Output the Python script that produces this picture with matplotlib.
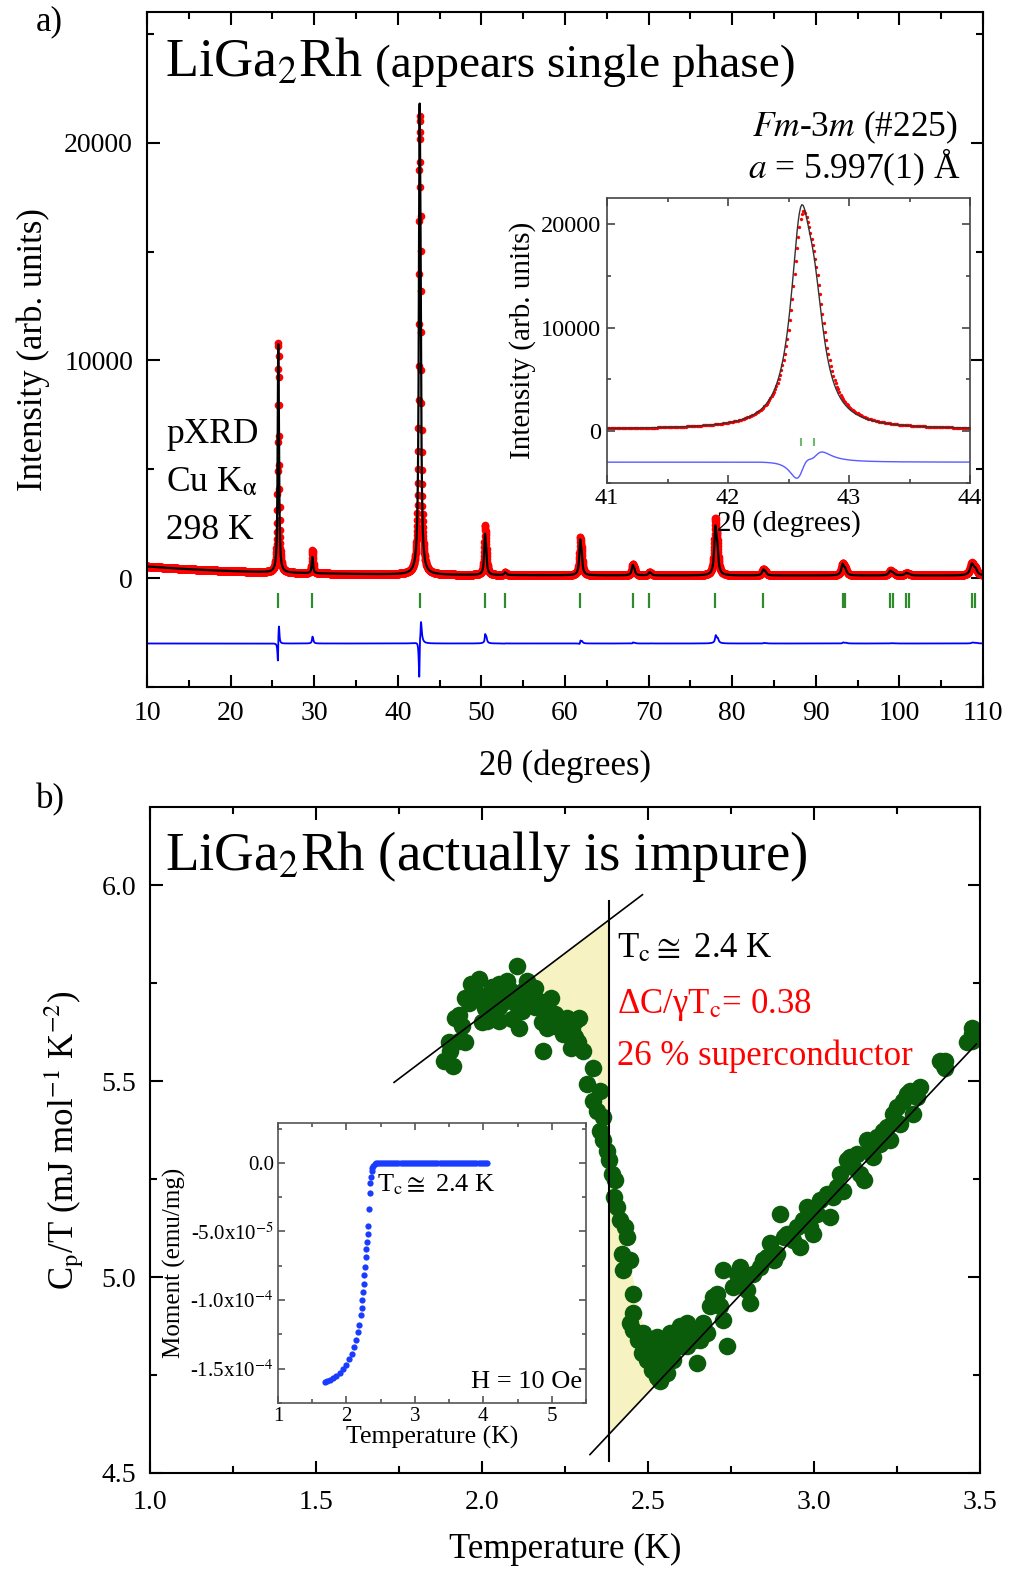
import numpy as np
import matplotlib
matplotlib.use("Agg")
import matplotlib.pyplot as plt
from matplotlib.ticker import MultipleLocator, FixedLocator, FixedFormatter

plt.rcParams['font.family'] = ['Liberation Serif', 'DejaVu Serif']
plt.rcParams['mathtext.fontset'] = 'stix'

W, H = 1011, 1570

# ---- pXRD: reflections of LiGa2Rh (Fm-3m, a = 5.997 A)
refl_pos = [25.69, 29.76, 42.60, 50.42, 52.83, 61.81, 68.09, 70.10, 77.98, 83.72,
            93.21, 98.90, 100.82, 108.67]
calc_height = [10500, 750, 21700, 1900, 120, 1650, 480, 150, 2300, 280, 540, 220, 120, 560]
obs_height = [10600, 1050, 21100, 2300, 120, 1750, 520, 150, 2650, 300, 580, 230, 120, 600]
refl_fwhm = [0.15, 0.16, 0.20, 0.21, 0.22, 0.24, 0.26, 0.27, 0.30, 0.33, 0.38, 0.42, 0.43, 0.50]
obs_fwhm_scale = [1.0, 1.0, 1.05, 1.0, 1.0, 1.0, 1.0, 1.0, 1.0, 1.0, 1.0, 1.0, 1.0, 1.0]
obs_shift = 0.010               # observed peaks sit slightly right of calc
bg_const, bg_amp, bg_decay = 120.0, 420.0, 14.0
diff_offset = -3000
kalpha_ratio = 1.54443 / 1.54056
tick_low, tick_high = -1350, -700

# ---- heat capacity points (T in K, Cp/T in mJ mol-1 K-2)
cp_T = [1.884, 1.914, 1.902, 1.932, 1.920, 1.950, 1.968, 1.992, 1.980, 2.010, 2.016, 2.040,
        2.052, 2.052, 2.076, 2.088, 2.106, 2.112, 2.124, 2.136, 2.148, 2.160, 2.172, 2.184,
        2.184, 2.196, 2.208, 2.220, 2.232, 2.243, 2.255, 2.267, 2.279, 2.291, 2.279,
        1.90, 1.94, 1.96, 1.99, 2.02, 2.03, 2.06, 2.07, 2.10, 2.12, 2.14, 2.16, 2.18, 2.20,
        2.22, 2.24, 2.26, 2.27, 2.29, 1.93, 1.95, 2.00, 2.05, 2.09,
        2.305, 2.335, 2.315, 2.355, 2.335, 2.345, 2.365, 2.355, 2.365, 2.376,
        2.381, 2.391, 2.401, 2.396, 2.406, 2.416, 2.431, 2.436, 2.421, 2.446, 2.426, 2.456,
        2.456, 2.446,
        2.456, 2.471, 2.481, 2.496, 2.511, 2.526, 2.536, 2.546, 2.556, 2.566, 2.576, 2.586,
        2.596, 2.606, 2.616, 2.626, 2.642, 2.647, 2.657, 2.667, 2.677, 2.687, 2.697, 2.707,
        2.717, 2.727, 2.727, 2.737, 2.757, 2.767, 2.777, 2.787, 2.797, 2.807, 2.817, 2.837,
        2.847, 2.857, 2.867, 2.878, 2.888, 2.898, 2.908, 2.918, 2.938, 2.948, 2.958, 2.968,
        2.978, 2.988, 2.998, 3.008, 3.018, 3.038, 3.048, 3.058, 3.068, 3.078, 3.088, 3.098,
        3.108, 3.118, 3.129, 3.139, 3.149, 3.159, 3.169, 3.179, 3.189, 3.199, 3.209, 3.219,
        3.229, 3.239, 3.249, 3.259, 3.269, 3.279, 3.289, 3.299, 3.309, 3.319, 3.380, 3.390,
        3.460, 2.486, 2.506, 2.526, 2.546, 2.566, 2.526, 2.496, 2.596, 2.616, 2.637, 2.576,
        2.556, 3.393, 3.393, 3.477, 3.477, 3.477]
cp_C = [5.552, 5.539, 5.578, 5.603, 5.662, 5.713, 5.747, 5.760, 5.730, 5.688, 5.654, 5.679,
        5.654, 5.747, 5.756, 5.730, 5.794, 5.637, 5.730, 5.756, 5.713, 5.739, 5.705, 5.688,
        5.578, 5.637, 5.713, 5.671, 5.646, 5.620, 5.662, 5.586, 5.654, 5.662, 5.612,
        5.60, 5.64, 5.70, 5.72, 5.71, 5.74, 5.70, 5.72, 5.70, 5.68, 5.70, 5.69, 5.65, 5.68,
        5.64, 5.66, 5.62, 5.63, 5.60, 5.67, 5.60, 5.65, 5.69, 5.66,
        5.578, 5.535, 5.493, 5.476, 5.450, 5.425, 5.408, 5.374, 5.349, 5.323,
        5.298, 5.264, 5.247, 5.204, 5.179, 5.145, 5.128, 5.103, 5.060, 5.043, 5.018, 4.958,
        4.908, 4.882,
        4.865, 4.840, 4.806, 4.789, 4.763, 4.746, 4.734, 4.763, 4.789, 4.814, 4.840, 4.857,
        4.874, 4.865, 4.882, 4.857, 4.865, 4.780, 4.840, 4.882, 4.857, 4.925, 4.950, 4.958,
        4.925, 4.891, 5.018, 4.823, 4.975, 5.009, 5.026, 4.992, 4.967, 4.933, 5.009, 5.026,
        5.043, 5.052, 5.086, 5.043, 5.060, 5.162, 5.103, 5.111, 5.094, 5.128, 5.077, 5.145,
        5.179, 5.128, 5.111, 5.162, 5.196, 5.213, 5.154, 5.204, 5.230, 5.264, 5.221, 5.298,
        5.306, 5.281, 5.315, 5.264, 5.247, 5.349, 5.332, 5.306, 5.357, 5.340, 5.374, 5.383,
        5.349, 5.416, 5.433, 5.391, 5.450, 5.467, 5.476, 5.416, 5.459, 5.484, 5.552, 5.540,
        5.599, 4.857, 4.823, 4.797, 4.814, 4.857, 4.848, 4.840, 4.823, 4.823, 4.840, 4.789,
        4.755, 5.552, 5.535, 5.637, 5.603, 5.620]

# guide lines and equal-area construction
line_sc_T, line_sc_C = [1.735, 2.483], [5.497, 5.976]
line_n_T, line_n_C = [2.325, 3.489], [4.547, 5.595]
Tc_line_T, Tc_line_C = [2.383, 2.383], [4.53, 5.96]
fill_up_T = [2.10, 2.383, 2.383, 2.36, 2.33, 2.30, 2.26, 2.22, 2.16, 2.10]
fill_up_C = [5.733, 5.912, 5.30, 5.47, 5.56, 5.60, 5.66, 5.70, 5.74, 5.733]
fill_lo_T = [2.383, 2.383, 2.52, 2.50, 2.47, 2.44, 2.41, 2.383]
fill_lo_C = [5.30, 4.599, 4.722, 4.83, 4.93, 5.06, 5.16, 5.30]

# ---- magnetisation inset
mag_T = [1.68, 1.72, 1.76, 1.80, 1.85, 1.90, 1.95, 2.00, 2.04, 2.08, 2.11, 2.14, 2.17, 2.19,
         2.21, 2.22, 2.23, 2.24, 2.25, 2.26, 2.27, 2.28, 2.29, 2.30, 2.31, 2.32, 2.33, 2.34,
         2.35, 2.36, 2.37, 2.38, 2.39, 2.41,
         2.43, 2.46, 2.49, 2.52, 2.55, 2.58, 2.61, 2.64, 2.67, 2.70, 2.73, 2.76, 2.79, 2.82,
         2.85, 2.88, 2.91, 2.94, 2.97, 3.00, 3.03, 3.06, 3.09, 3.12, 3.15, 3.18, 3.21, 3.24,
         3.27, 3.30, 3.33, 3.36, 3.39, 3.42, 3.45, 3.48, 3.51, 3.54, 3.57, 3.60, 3.63, 3.66,
         3.69, 3.72, 3.75, 3.78, 3.81, 3.84, 3.87, 3.90, 3.93, 3.96, 3.99, 4.02, 4.05]
mag_M_e5 = [-15.95, -15.9, -15.8, -15.7, -15.5, -15.3, -15.0, -14.7, -14.3, -13.9, -13.4,
            -12.9, -12.3, -11.8, -11.1, -10.6, -10.0, -9.4, -8.8, -8.2, -7.6, -6.9, -6.3,
            -5.8, -5.2, -4.6, -3.4, -2.2, -1.5, -1.0, -0.6, -0.35, -0.2, -0.05] + [0.0] * 55
mag_yticks = [0.0, -5e-5, -1e-4, -1.5e-4]
mag_ylabels = ['0.0', '-5.0x10$^{-5}$', '-1.0x10$^{-4}$', '-1.5x10$^{-4}$']


def peak_shape(x, p, w):
    return 1.0 / (1.0 + ((x - p) / (w / 2)) ** 2)


def pattern(x, heights, wscale, shift):
    y = bg_const + bg_amp * np.exp(-(x - 10) / bg_decay)
    for p, h, w, s in zip(refl_pos, heights, refl_fwhm, wscale):
        w = w * s
        p2 = np.degrees(2 * np.arcsin(kalpha_ratio * np.sin(np.radians(p / 2))))
        fine = np.linspace(p - 0.3, p2 + 0.3, 600)
        norm = (peak_shape(fine, p, w) + 0.5 * peak_shape(fine, p2, w)).max()
        y = y + h / norm * (peak_shape(x, p + shift, w) + 0.5 * peak_shape(x, p2 + shift, w))
    return y


def style(ax, lw=1.5, size=20, major=9, minor=5, color='black', pad=10):
    for s in ax.spines.values():
        s.set_linewidth(lw)
        s.set_color(color)
    ax.tick_params(which='both', direction='in', top=True, right=True, width=lw,
                   labelsize=size, color=color, pad=pad)
    ax.tick_params(which='major', length=major)
    ax.tick_params(which='minor', length=minor)


def px(x, y):
    return x / W, 1 - y / H


fig = plt.figure(figsize=(W / 100, H / 100), dpi=100)
ones = [1.0] * len(refl_pos)

# ================= panel a =================
ax1 = fig.add_axes([0.1454, 0.5624, 0.8269, 0.4299])
tth = np.arange(10, 110.001, 0.02)
calc = pattern(tth, calc_height, ones, 0.0)
obs = pattern(tth, obs_height, obs_fwhm_scale, obs_shift)
ax1.plot(tth, obs, 'o', color='red', ms=5.5, mew=0, zorder=2)
ax1.plot(tth, calc, '-', color='black', lw=1.6, zorder=3)
ax1.plot(tth, obs - calc + diff_offset, '-', color='blue', lw=1.3, zorder=2)
kb = np.degrees(2 * np.arcsin(kalpha_ratio * np.sin(np.radians(np.array(refl_pos) / 2))))
ax1.vlines(refl_pos, tick_low, tick_high, color='#2e8b2e', lw=1.6)
ax1.vlines([p for p in kb if p > 90], tick_low, tick_high, color='#2e8b2e', lw=1.6)
ax1.set_xlim(10, 110)
ax1.set_ylim(-5000, 26000)
ax1.xaxis.set_major_locator(MultipleLocator(10))
ax1.xaxis.set_minor_locator(MultipleLocator(5))
ax1.set_yticks([0, 10000, 20000])
ax1.yaxis.set_minor_locator(MultipleLocator(5000))
style(ax1)
ax1.set_xlabel('2θ (degrees)', fontsize=25, labelpad=17)
ax1.set_ylabel('Intensity (arb. units)', fontsize=25, labelpad=10)

fig.text(*px(36, 30), 'a)', fontsize=25, va='baseline')
fig.text(*px(165, 77), 'LiGa$_2$Rh', fontsize=39, va='baseline')
fig.text(*px(375, 77), '(appears single phase)', fontsize=34, va='baseline')
fig.text(*px(958, 136), '$Fm$-3$m$ (#225)', fontsize=25.5, va='baseline', ha='right')
fig.text(*px(960, 178), '$a$ = 5.997(1) Å', fontsize=25.5, va='baseline', ha='right')
fig.text(*px(166, 443), 'pXRD', fontsize=25.5, va='baseline')
fig.text(*px(166, 491), 'Cu K$_{\\mathrm{α}}$', fontsize=25.5, va='baseline')
fig.text(*px(166, 539), '298 K', fontsize=25.5, va='baseline')

# inset: (220) reflection
axi = fig.add_axes([0.6004, 0.6924, 0.3591, 0.1815])
tz = np.arange(41, 44.001, 0.01)
calc_z = pattern(tz, calc_height, ones, 0.0)
obs_z = pattern(tz, obs_height, obs_fwhm_scale, obs_shift)
axi.plot(tz, obs_z, 'o', color='red', ms=2.4, mew=0, zorder=2)
axi.plot(tz, calc_z, '-', color='#333333', lw=1.0, zorder=3)
axi.plot(tz, obs_z - calc_z + diff_offset, '-', color='#5a5aff', lw=1.0)
axi.vlines([42.60, kb[2]], -1450, -700, color='#6fb86f', lw=1.5)
axi.set_xlim(41, 44)
axi.set_ylim(-5000, 22500)
axi.xaxis.set_major_locator(MultipleLocator(1))
axi.xaxis.set_minor_locator(MultipleLocator(0.5))
axi.set_yticks([0, 10000, 20000])
axi.yaxis.set_minor_locator(MultipleLocator(5000))
style(axi, lw=1.2, size=17.5, major=6, minor=3, color='#444444', pad=4)
axi.tick_params(labelcolor='black')
axi.set_xlabel('2θ (degrees)', fontsize=21, labelpad=0)
axi.set_ylabel('Intensity (arb. units)', fontsize=21, labelpad=4)

# ================= panel b =================
ax2 = fig.add_axes([0.1484, 0.0618, 0.8210, 0.4242])
ax2.fill(fill_up_T, fill_up_C, color='#f7f2c2', lw=0, zorder=1)
ax2.fill(fill_lo_T, fill_lo_C, color='#f7f2c2', lw=0, zorder=1)
ax2.scatter(cp_T, cp_C, s=160, color='#0a5c0a', lw=0, zorder=2)
ax2.plot(line_sc_T, line_sc_C, '-', color='black', lw=1.2, zorder=3)
ax2.plot(line_n_T, line_n_C, '-', color='black', lw=1.2, zorder=3)
ax2.plot(Tc_line_T, Tc_line_C, '-', color='black', lw=1.5, zorder=3)
ax2.set_xlim(1.0, 3.5)
ax2.set_ylim(4.5, 6.2)
ax2.xaxis.set_major_locator(MultipleLocator(0.5))
ax2.xaxis.set_minor_locator(MultipleLocator(0.25))
ax2.yaxis.set_major_locator(FixedLocator([4.5, 5.0, 5.5, 6.0]))
ax2.yaxis.set_minor_locator(MultipleLocator(0.25))
ax2.xaxis.set_major_formatter(lambda v, p: f'{v:.1f}')
ax2.yaxis.set_major_formatter(lambda v, p: f'{v:.1f}')
style(ax2)
ax2.tick_params(axis='x', pad=12)
ax2.set_xlabel('Temperature (K)', fontsize=25, labelpad=13)
ax2.set_ylabel('C$_{\\rm p}$/T (mJ mol$^{-1}$ K$^{-2}$)', fontsize=25, labelpad=12)

fig.text(*px(36, 808), 'b)', fontsize=25, va='baseline')
fig.text(*px(165, 870), 'LiGa$_2$Rh (actually is impure)', fontsize=39.5, va='baseline')
fig.text(*px(617, 957), 'T$_{\\rm c}\\cong$ 2.4 K', fontsize=25, va='baseline')
fig.text(*px(617, 1013), 'ΔC/γT$_{\\rm c}$= 0.38', fontsize=25, va='baseline', color='red')
fig.text(*px(617, 1065), '26 % superconductor', fontsize=25, va='baseline', color='red')

# inset: magnetisation
axm = fig.add_axes([0.2750, 0.1064, 0.3046, 0.1783])
axm.plot(mag_T, np.array(mag_M_e5) * 1e-5, 'o', color='#1a3cff', ms=4.5, mew=0)
axm.set_xlim(1, 5.5)
axm.set_ylim(-1.75e-4, 2.9e-5)
axm.xaxis.set_major_locator(MultipleLocator(1))
axm.xaxis.set_minor_locator(MultipleLocator(0.5))
axm.yaxis.set_major_locator(FixedLocator(mag_yticks))
axm.yaxis.set_major_formatter(FixedFormatter(mag_ylabels))
axm.yaxis.set_minor_locator(MultipleLocator(2.5e-5))
style(axm, lw=1.2, size=15, major=5, minor=3, color='#555555', pad=3)
axm.tick_params(labelcolor='black')
axm.set_xlabel('Temperature (K)', fontsize=18.5, labelpad=0)
axm.set_ylabel('Moment (emu/mg)', fontsize=18, labelpad=3)
axm.text(2.45, -1.6e-5, 'T$_{\\rm c}\\cong$ 2.4 K', fontsize=19, va='center')
axm.text(5.45, -1.6e-4, 'H = 10 Oe', fontsize=19, va='center', ha='right')

fig.savefig('out.png', dpi=100, facecolor='white')
